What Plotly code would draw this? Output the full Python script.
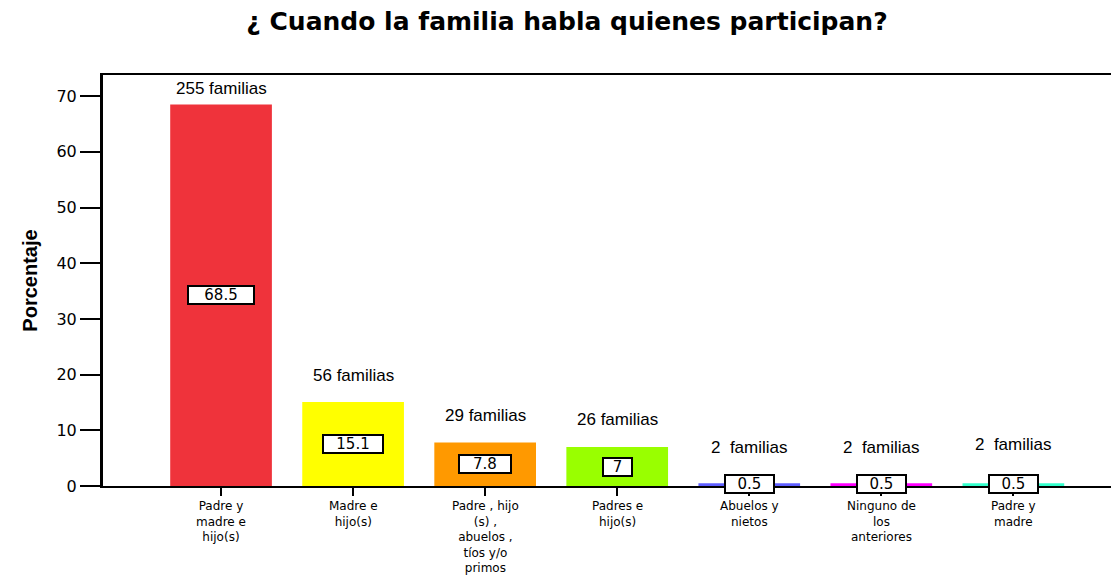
import plotly.graph_objects as go

categories = [
    "Padre y<br>madre e<br>hijo(s)",
    "Madre e<br>hijo(s)",
    "Padre , hijo<br>(s) ,<br>abuelos ,<br>tíos y/o<br>primos",
    "Padres e<br>hijo(s)",
    "Abuelos y<br>nietos",
    "Ninguno de<br>los<br>anteriores",
    "Padre y<br>madre",
]
percentages = [68.5, 15.1, 7.8, 7, 0.5, 0.5, 0.5]
value_labels = ["68.5", "15.1", "7.8", "7", "0.5", "0.5", "0.5"]
family_labels = ["255 familias", "56 familias", "29 familias", "26 familias",
                 "2  familias", "2  familias", "2  familias"]

colors = ["#EF333B", "#FFFF00", "#FF9900", "#99FF00", "#5F5FFF", "#FF00FF", "#33FFCC"]
family_shift = [5, 15, 16, 16, 24, 24, 27]
box_widths = [64, 58, 50, 27, 47, 47, 47]

# page body has an 8px margin: offsets compensate so the plot lands where the reference has it
PAGE = 8

fig = go.Figure()
fig.add_trace(go.Bar(
    x=list(range(len(categories))), y=percentages,
    marker=dict(color=colors, line=dict(width=0)),
    width=0.77, showlegend=False, hoverinfo="skip",
))

for i, (v, lab) in enumerate(zip(percentages, value_labels)):
    fig.add_annotation(
        x=i, y=max(v / 2, 0.3), xref="x", yref="y", text=lab, showarrow=False,
        font=dict(family="DejaVu Sans", size=15, color="black"),
        bgcolor="white", bordercolor="black", borderwidth=2, borderpad=0,
        width=box_widths[i], height=16,
    )

for i, (v, lab) in enumerate(zip(percentages, family_labels)):
    fig.add_annotation(
        x=i, y=v, xref="x", yref="y", text=lab, showarrow=False,
        yanchor="bottom", yshift=family_shift[i],
        font=dict(family="Liberation Sans, Arial", size=17, color="black"),
    )

for i, cat in enumerate(categories):
    fig.add_annotation(
        x=i, y=0, xref="x", yref="paper", text=cat, showarrow=False,
        yanchor="top", yshift=-12, borderpad=0,
        font=dict(family="DejaVu Sans", size=12, color="black"),
    )

fig.update_layout(
    width=1119, height=575,
    margin=dict(l=103 - PAGE, r=PAGE, t=75 - PAGE, b=89 + PAGE),
    paper_bgcolor="white", plot_bgcolor="white",
    title=dict(
        text="<b>¿ Cuando la familia habla quienes participan?</b>",
        x=(567 - PAGE) / 1119, xanchor="center", y=1 - (21 - PAGE) / 575, yanchor="middle",
        font=dict(family="DejaVu Sans", size=25, color="black"),
    ),
    xaxis=dict(
        range=[-0.894, 6.80], automargin=False,
        tickvals=list(range(len(categories))), ticktext=[""] * len(categories),
        showline=True, linecolor="black", linewidth=2, mirror=True,
        ticks="outside", ticklen=8, tickwidth=2, tickcolor="black",
        showgrid=False, zeroline=False,
    ),
    yaxis=dict(
        range=[0, 73.8], automargin=False,
        tickvals=[0, 10, 20, 30, 40, 50, 60, 70],
        showline=True, linecolor="black", linewidth=3,
        ticks="outside", ticklen=20, tickwidth=2, tickcolor="black",
        tickfont=dict(family="DejaVu Sans", size=16, color="black"),
        showgrid=False, zeroline=False,
        title=dict(text="<b>Porcentaje</b>", standoff=14,
                   font=dict(family="Liberation Sans Narrow, Arial Narrow, Liberation Sans", size=20, color="black")),
    ),
)

fig.write_html("out.html")
